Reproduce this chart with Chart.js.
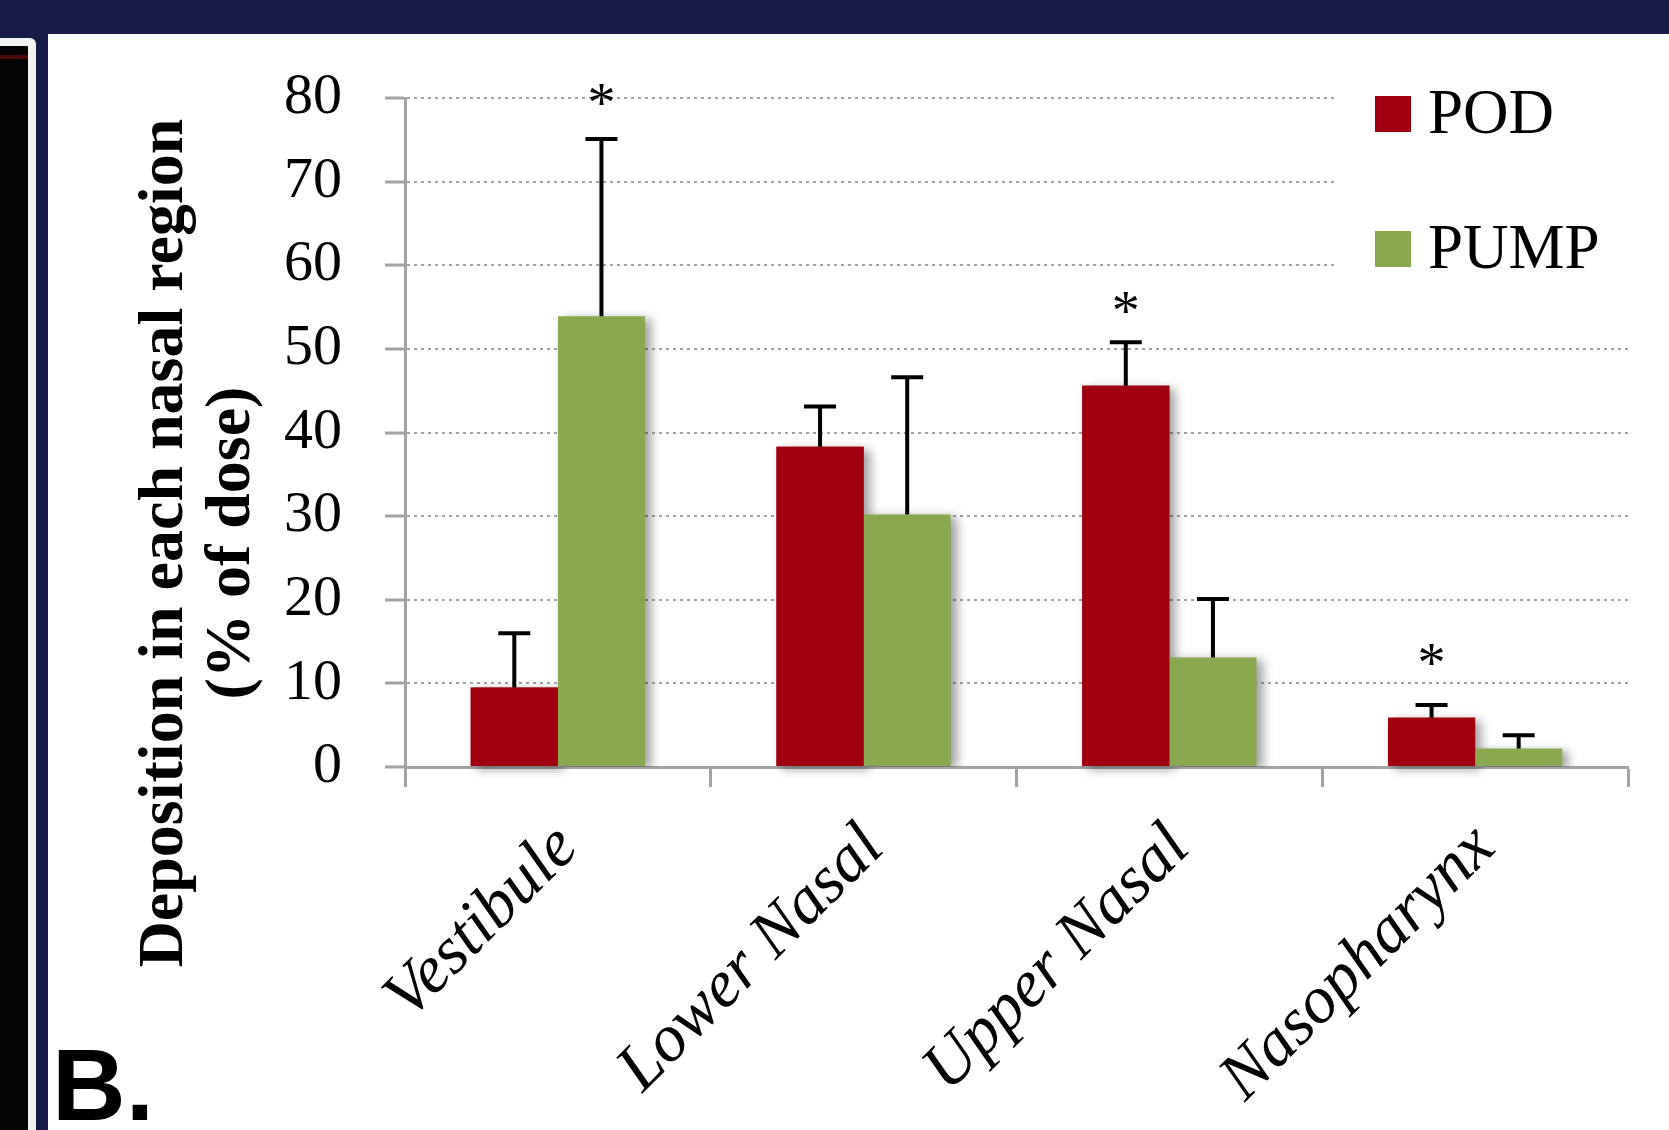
<!DOCTYPE html>
<html>
<head>
<meta charset="utf-8">
<title>Deposition in each nasal region</title>
<script src="https://cdn.jsdelivr.net/npm/chart.js"></script>
<style>
  html, body { margin: 0; padding: 0; }
  body { width: 1669px; height: 1130px; background: #171a45; position: relative; overflow: hidden; }
  #sideFrame { position: absolute; left: 0; top: 38px; width: 36px; height: 1092px; background: #f2f2f2; border-top-right-radius: 6px; }
  #sideBlack { position: absolute; left: 0; top: 46px; width: 28px; height: 1084px; background: #040404; }
  #sideRed { position: absolute; left: 0; top: 55px; width: 28px; height: 4px; background: #4e0a0a; }
  #panel { position: absolute; left: 48px; top: 34px; width: 1621px; height: 1096px; background: #fff; }
  #panelLabel { position: absolute; left: 52px; top: 1034px; font: bold 102px "Liberation Sans", Arial, sans-serif; line-height: 1; color: #000; }
</style>
</head>
<body>
<div id="sideFrame"></div>
<div id="sideBlack"></div>
<div id="sideRed"></div>
<div id="panel"><canvas id="depositionChart" width="1621" height="1096"></canvas></div>
<div id="panelLabel">B.</div>
<script>
const categories = ["Vestibule", "Lower Nasal", "Upper Nasal", "Nasopharynx"];
const podValues = [9.5, 38.3, 45.6, 5.9];
const podErrors = [6.5, 4.8, 5.2, 1.5];
const pumpValues = [53.9, 30.2, 13.1, 2.2];
const pumpErrors = [21.2, 16.4, 7.0, 1.6];
// height (in % of dose) where the significance asterisks sit
const podStars = [null, null, 55.7, 13.6];
const pumpStars = [80.6, null, null, null];
const yMin = 0;
const yMax = 80;
const yStep = 10;
const yTitle = ["Deposition in each nasal region", "(% of dose)"];

const POD_COLOR = "#a0000f";
const PUMP_COLOR = "#89a84f";
const AXIS_GRAY = "#a3a3a3";
const SERIF = "'Liberation Serif', 'Times New Roman', serif";

function setShadow(ctx) {
  ctx.shadowColor = "rgba(0,0,0,0.38)";
  ctx.shadowBlur = 10;
  ctx.shadowOffsetX = 6;
  ctx.shadowOffsetY = 3;
}

// white patch behind the legend + soft shadows on the bars
const barShadow = {
  id: "barShadow",
  beforeDatasetsDraw(chart) {
    const { ctx, chartArea, scales: { y } } = chart;
    const top = chartArea.top - 12;
    ctx.save();
    ctx.fillStyle = "#fff";
    ctx.fillRect(1288, top, chartArea.right + 12 - 1288, y.getPixelForValue(55) - top);

    // POD sits left of PUMP, so its shadow has to go under the green bars
    setShadow(ctx);
    ctx.fillStyle = POD_COLOR;
    chart.getDatasetMeta(0).data.forEach(bar => {
      ctx.fillRect(bar.x - bar.width / 2, bar.y, bar.width, bar.base - bar.y);
    });
    ctx.restore();
  },
  beforeDatasetDraw(chart, args) {
    if (args.index !== 1) return;
    chart.ctx.save();
    setShadow(chart.ctx);
  },
  afterDatasetDraw(chart, args) {
    if (args.index !== 1) return;
    chart.ctx.restore();
  }
};

const errorBars = {
  id: "errorBars",
  afterDatasetsDraw(chart) {
    const { ctx, scales: { y } } = chart;
    ctx.save();
    chart.data.datasets.forEach((ds, di) => {
      chart.getDatasetMeta(di).data.forEach((bar, i) => {
        const top = y.getPixelForValue(ds.data[i] + ds.errors[i]);
        ctx.strokeStyle = "#000";
        ctx.lineWidth = 4;
        ctx.beginPath();
        ctx.moveTo(bar.x, bar.y);
        ctx.lineTo(bar.x, top);
        ctx.moveTo(bar.x - 16, top);
        ctx.lineTo(bar.x + 16, top);
        ctx.stroke();

        if (ds.stars[i] != null) {
          ctx.fillStyle = "#000";
          ctx.font = "56px " + SERIF;
          ctx.textAlign = "center";
          ctx.textBaseline = "alphabetic";
          ctx.fillText("*", bar.x, y.getPixelForValue(ds.stars[i]) + 29);
        }
      });
    });
    ctx.restore();
  }
};

const sideTexts = {
  id: "sideTexts",
  afterDraw(chart) {
    const { ctx } = chart;
    ctx.save();
    ctx.fillStyle = "#000";

    // y axis title, two lines
    ctx.save();
    ctx.translate(117, 509);
    ctx.rotate(-Math.PI / 2);
    ctx.font = "bold 64px " + SERIF;
    ctx.textAlign = "center";
    ctx.textBaseline = "middle";
    ctx.fillText(yTitle[0], 0, 0);
    ctx.fillText(yTitle[1], 0, 67);
    ctx.restore();

    // legend
    ctx.font = "63px " + SERIF;
    ctx.textAlign = "left";
    ctx.textBaseline = "middle";
    chart.data.datasets.forEach((ds, i) => {
      const cy = 80 + i * 135;
      ctx.fillStyle = ds.backgroundColor;
      ctx.fillRect(1327, cy - 18, 36, 36);
      ctx.fillStyle = "#000";
      ctx.fillText(ds.label, 1380, cy + 2);
    });
    ctx.restore();
  }
};

const ctx = document.getElementById("depositionChart").getContext("2d");
new Chart(ctx, {
  type: "bar",
  data: {
    labels: categories,
    datasets: [
      { label: "POD", data: podValues, errors: podErrors, stars: podStars, backgroundColor: POD_COLOR },
      { label: "PUMP", data: pumpValues, errors: pumpErrors, stars: pumpStars, backgroundColor: PUMP_COLOR }
    ]
  },
  options: {
    responsive: false,
    animation: false,
    devicePixelRatio: 1,
    layout: { padding: { left: 0, right: 41, top: 64, bottom: 0 } },
    datasets: { bar: { categoryPercentage: 0.57, barPercentage: 1.0, borderWidth: 0 } },
    plugins: {
      legend: { display: false },
      tooltip: { enabled: false }
    },
    scales: {
      x: {
        afterFit: s => { s.height = 363; },
        grid: { display: true, drawOnChartArea: false, drawTicks: true, tickLength: 20, tickColor: AXIS_GRAY, tickWidth: 3, offset: true },
        border: { display: true, color: AXIS_GRAY, width: 3 },
        ticks: {
          color: "#000",
          font: { family: SERIF, size: 67, style: "italic" },
          minRotation: 45,
          maxRotation: 45,
          autoSkip: false,
          padding: 22,
          labelOffset: 10
        }
      },
      y: {
        min: yMin,
        max: yMax,
        afterFit: s => {
          s.width = 357;
          // the big label padding should not push the plot area down
          s.paddingTop = 0;
          s.paddingBottom = 0;
        },
        grid: { color: AXIS_GRAY, lineWidth: 2, tickLength: 20, tickColor: AXIS_GRAY, tickWidth: 3, tickBorderDash: [] },
        border: { display: true, color: AXIS_GRAY, width: 3, dash: [3, 4] },
        ticks: {
          stepSize: yStep,
          color: "#000",
          font: { family: SERIF, size: 58 },
          padding: 43
        }
      }
    }
  },
  plugins: [barShadow, errorBars, sideTexts]
});
</script>
</body>
</html>
